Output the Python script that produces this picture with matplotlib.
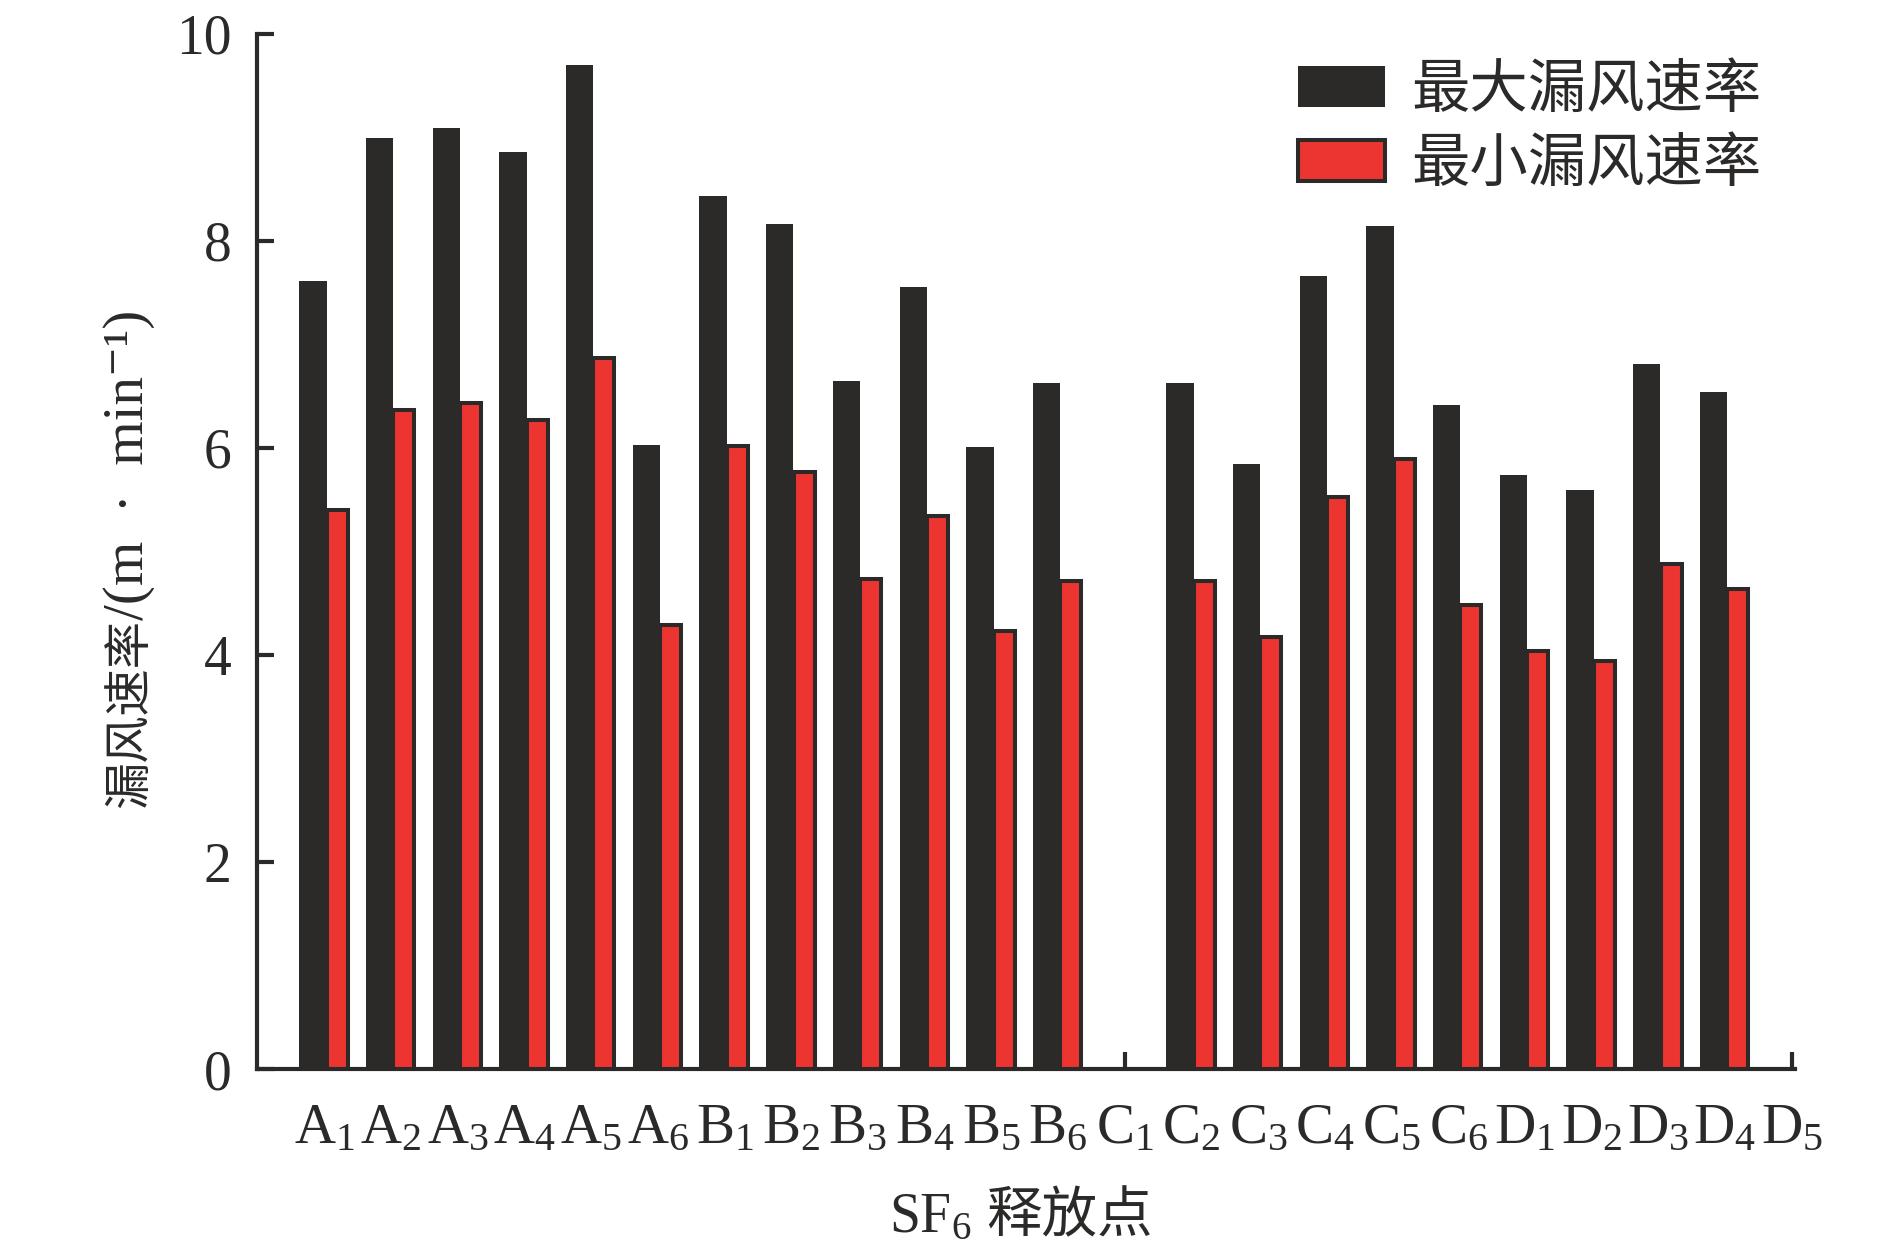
import numpy as np
import matplotlib
matplotlib.use("Agg")
import matplotlib.pyplot as plt

# ---------------- data ----------------
cat_letters = ["A", "A", "A", "A", "A", "A",
               "B", "B", "B", "B", "B", "B",
               "C", "C", "C", "C", "C", "C",
               "D", "D", "D", "D", "D"]
cat_subs = ["1", "2", "3", "4", "5", "6",
            "1", "2", "3", "4", "5", "6",
            "1", "2", "3", "4", "5", "6",
            "1", "2", "3", "4", "5"]
# maximum / minimum leakage wind speed (m/min); NaN = no bar drawn
max_rate = [7.61, 8.99, 9.09, 8.86, 9.70, 6.03,
            8.43, 8.16, 6.65, 7.55, 6.01, 6.63,
            np.nan, 6.63, 5.84, 7.66, 8.14, 6.41,
            5.74, 5.59, 6.81, 6.54, np.nan]
min_rate = [5.40, 6.37, 6.43, 6.27, 6.87, 4.29,
            6.02, 5.77, 4.73, 5.34, 4.23, 4.72,
            np.nan, 4.72, 4.17, 5.53, 5.89, 4.48,
            4.04, 3.94, 4.88, 4.64, np.nan]
series_names = ["最大漏风速率", "最小漏风速率"]
y_ticks = [0, 2, 4, 6, 8, 10]

# ---------------- style ----------------
DARK = "#2b2a29"
RED = "#ec3431"
plt.rcParams["mathtext.fontset"] = "custom"
plt.rcParams["mathtext.rm"] = "Liberation Serif"
plt.rcParams["mathtext.it"] = "Liberation Serif:italic"
plt.rcParams["mathtext.bf"] = "Liberation Serif:bold"
plt.rcParams["font.family"] = ["Liberation Serif", "Noto Sans CJK SC", "DejaVu Serif"]

fig = plt.figure(figsize=(18.9, 12.6), dpi=100)
ax = fig.add_axes([0.1358, 0.1512, 0.8139, 0.8222])

x = np.arange(len(cat_letters))
mx = np.array(max_rate, dtype=float)
mn = np.array(min_rate, dtype=float)
has = ~np.isnan(mx)

b1 = ax.bar(x[has] - 0.376, mx[has], width=0.41, align="edge",
            color=DARK, edgecolor="none", zorder=2, label=series_names[0])
b2 = ax.bar(x[has] + 0.035, mn[has], width=0.315, align="edge",
            color=RED, edgecolor=DARK, linewidth=2.9, zorder=3,
            label=series_names[1])

ax.set_xlim(-1.015, 22.05)
ax.set_ylim(0, 10)

for s in ["top", "right"]:
    ax.spines[s].set_visible(False)
for s in ["left", "bottom"]:
    ax.spines[s].set_linewidth(3.0)
    ax.spines[s].set_color(DARK)
    ax.spines[s].set_capstyle("projecting")

ax.set_yticks(y_ticks)
ax.set_yticklabels([str(v) for v in y_ticks], fontsize=40,
                   fontfamily="Liberation Serif", color=DARK)
ax.tick_params(axis="y", direction="in", length=12.5, width=3.0,
               color=DARK, pad=18)

# category labels (major, no marks) + marks at C1 and the end (minor)
ax.xaxis.remove_overlapping_locs = False
ax.set_xticks(x)
ax.set_xticklabels([r"$\mathrm{%s}_{\mathrm{%s}}$" % (l, s)
                    for l, s in zip(cat_letters, cat_subs)],
                   fontsize=41, color=DARK)
ax.tick_params(axis="x", which="major", length=0, pad=24)
ax.set_xticks([12, 22.0], minor=True)
ax.tick_params(axis="x", which="minor", direction="in", length=12.5,
               width=3.0, color=DARK)

# y-axis title: CJK part + Latin unit part, rotated, sharing a baseline
ylab_x = 143 / 1890
fig.text(ylab_x, 1 - 808 / 1260, "漏风速率", rotation=90,
         rotation_mode="anchor", ha="left", va="baseline",
         fontsize=34, color=DARK, family=["Noto Sans CJK SC", "DejaVu Sans"])
fig.text(ylab_x, 1 - 620 / 1260, "/(m  ·  min⁻¹)", rotation=90,
         rotation_mode="anchor", ha="left", va="baseline",
         fontsize=41, color=DARK,
         family=["Liberation Serif", "DejaVu Serif"])

# x-axis title
fig.text(889 / 1890, 1 - 1232 / 1260, r"$\mathrm{SF}_{\mathrm{6}}$",
         ha="left", va="baseline", fontsize=40, color=DARK)
fig.text(986 / 1890, 1 - 1232 / 1260, "释放点",
         ha="left", va="baseline", fontsize=40, color=DARK,
         family=["Noto Sans CJK SC", "DejaVu Sans"])

leg = ax.legend(handles=[b1, b2], labels=series_names,
                loc="upper right", bbox_to_anchor=(1762 / 1890, 1 - 60 / 1260),
                bbox_transform=fig.transFigure, frameon=False,
                borderpad=0, borderaxespad=0, handlelength=1.5,
                handleheight=0.7, handletextpad=0.45, labelspacing=0.22,
                prop={"family": ["Noto Sans CJK SC", "DejaVu Sans"], "size": 42})
for t in leg.get_texts():
    t.set_color(DARK)

fig.savefig("out.png", dpi=100, facecolor="white")
